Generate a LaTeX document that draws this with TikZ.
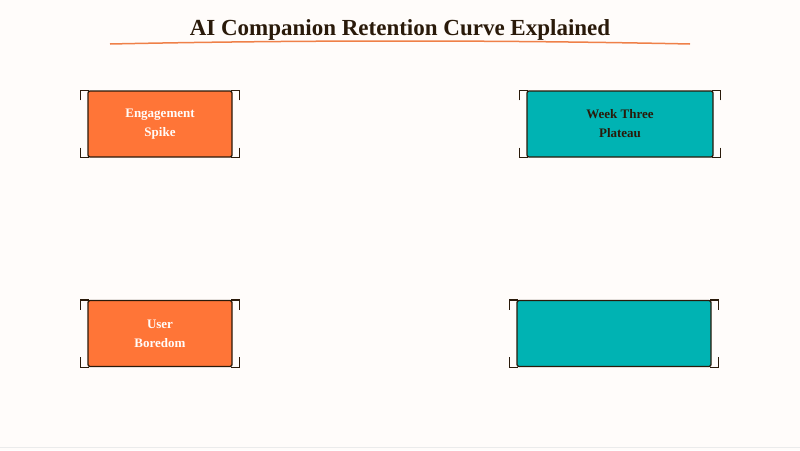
\documentclass[tikz,border=0pt]{standalone}
\usepackage{fontspec}
\setmainfont{Liberation Serif}
\usetikzlibrary{positioning}
\definecolor{paper}{HTML}{FFFCFA}
\definecolor{ink}{HTML}{2A1A0A}
\definecolor{spike}{HTML}{FF7537}
\definecolor{teal}{HTML}{00B3B3}
\definecolor{rule}{HTML}{EF8048}
\tikzset{
  card/.style={draw=ink, line width=1.3pt, rounded corners=2pt, minimum height=66pt, align=center, font=\bfseries\fontsize{13}{19}\selectfont},
  hot/.style={card, fill=spike, text=paper},
  cool/.style={card, fill=teal, text=ink},
  brk/.style={draw=ink, line width=1.3pt}
}
\newcommand\brackets[1]{%
  \draw[brk] ([xshift=-7pt,yshift=-10pt]#1.north west) -- ([xshift=-7pt]#1.north west) -- ([xshift=2pt]#1.north west);
  \draw[brk] ([xshift=7pt,yshift=-10pt]#1.north east) -- ([xshift=7pt]#1.north east) -- ([xshift=-2pt]#1.north east);
  \draw[brk] ([xshift=-7pt,yshift=10pt]#1.south west) -- ([xshift=-7pt]#1.south west) -- ([xshift=2pt]#1.south west);
  \draw[brk] ([xshift=7pt,yshift=10pt]#1.south east) -- ([xshift=7pt]#1.south east) -- ([xshift=-2pt]#1.south east);}
\begin{document}
\begin{tikzpicture}[x=1pt,y=-1pt]
\fill[paper] (0,0) rectangle (800,450);
\useasboundingbox (0,0) rectangle (800,450);
\draw[black!8] (0,447) -- (800,447);
\node (title) at (400,30) [font=\bfseries\fontsize{23}{26}\selectfont, text=ink] {AI Companion Retention Curve Explained};
\draw[rule, line width=1.5pt] (110,44) .. controls (300,40) and (500,40) .. (690,44);
% cards
\node (spike) at (160,124) [hot, minimum width=144pt] {Engagement\\Spike};
\node (plateau) at (620,124) [cool, minimum width=186pt] {Week Three\\Plateau};
\node (bored) at (160,333.5) [hot, minimum width=144pt] {User\\Boredom};
\node (blank) at (614,333.5) [cool, minimum width=194pt] {};
\brackets{spike}
\brackets{plateau}
\brackets{bored}
\brackets{blank}
\end{tikzpicture}
\end{document}
